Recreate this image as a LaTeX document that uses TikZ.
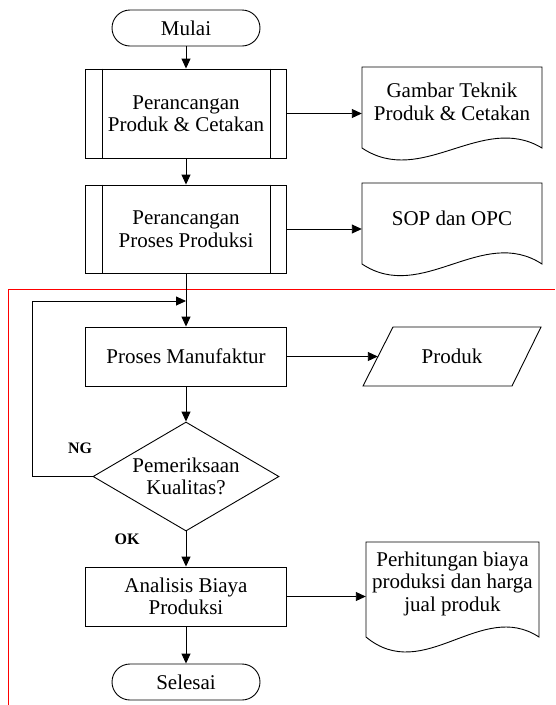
\documentclass[tikz,border=0pt]{standalone}
\usepackage{fontspec}
\setmainfont{Liberation Serif}
\usetikzlibrary{arrows.meta,shapes.geometric}
\begin{document}
\begin{tikzpicture}[x=1pt,y=-1pt,
  lw/.style={line width=0.9pt},
  arr/.style={lw,-{Triangle[length=10pt,width=9pt]}},
  txt/.style={font=\fontsize{21}{22.5}\selectfont, align=center, inner sep=0pt},
  term/.style={txt,draw,lw,rounded corners=18pt,minimum width=148pt,minimum height=36pt},
  proc/.style={txt,draw,lw,minimum width=201pt},
  lbl/.style={font=\fontsize{16}{18}\selectfont\bfseries, inner sep=0pt},
  frame/.style={draw=red, line width=0.9pt}]
\useasboundingbox (0,0) rectangle (555,705);

% main column
\node[term] (mulai) at (186,28) {Mulai};
\node[proc, minimum height=89pt] (b1) at (186,113.5) {Perancangan\\Produk \& Cetakan};
\node[proc, minimum height=88pt] (b2) at (186,229) {Perancangan\\Proses Produksi};
\node[proc, minimum height=59pt] (pm) at (186,356.5) {Proses Manufaktur};
\node[txt, draw, lw, diamond, shape aspect=1.706, minimum width=186pt, minimum height=109pt] (dia) at (186,476.5) {Pemeriksaan\\Kualitas?};
\node[proc, minimum height=59pt] (ana) at (186,596.5) {Analisis Biaya\\Produksi};
\node[term] (sel) at (186,682) {Selesai};

% predefined process side bars
\draw[lw] ([xshift=17pt]b1.north west) -- ([xshift=17pt]b1.south west);
\draw[lw] ([xshift=-17pt]b1.north east) -- ([xshift=-17pt]b1.south east);
\draw[lw] ([xshift=17pt]b2.north west) -- ([xshift=17pt]b2.south west);
\draw[lw] ([xshift=-17pt]b2.north east) -- ([xshift=-17pt]b2.south east);

% documents
\node[txt, minimum width=180pt] (gt) at (452,102) {Gambar Teknik\\Produk \& Cetakan};
\draw[lw] (362,67) -- (542,67) -- (542,148) .. controls (482,112) and (422,188) .. (362,148) -- cycle;

\node[txt, minimum width=180pt] (sop) at (452,218) {SOP dan OPC};
\draw[lw] (362,183) -- (542,183) -- (542,264) .. controls (482,225) and (422,304) .. (362,264) -- cycle;

\node[txt, minimum width=173pt] (per) at (452.5,583.5) {Perhitungan biaya\\produksi dan harga\\jual produk};
\draw[lw] (366,542) -- (539,542) -- (539,637) .. controls (481,599) and (424,685) .. (366,637) -- cycle;

% data (parallelogram)
\node[txt, minimum width=148pt, minimum height=59pt] (prod) at (452,356.5) {Produk};
\draw[lw] (363,386) -- (393,327) -- (541,327) -- (512,386) -- cycle;

% red frame
\draw[frame] (8,705) -- (8,289) -- (555,289);

% connectors
\coordinate (loopx) at (32,301);
\coordinate (join) at (186,301);
\draw[arr] (mulai) -- (b1);
\draw[arr] (b1.east) -- (b1.east -| gt.west);
\draw[arr] (b1) -- (b2);
\draw[arr] (b2.east) -- (b2.east -| sop.west);
\draw[arr] (b2) -- (pm);
\draw[arr] (pm.east) -- (pm.east -| prod.west);
\draw[arr] (pm) -- (dia);
\draw[arr] (dia.west) -| (loopx) -- (join);
\draw[arr] (dia) -- (ana);
\draw[arr] (ana.east) -- (ana.east -| per.west);
\draw[arr] (ana) -- (sel);

% labels
\node[lbl] (ng) at (80,448) {NG};
\node[lbl] (ok) at (127,539) {OK};
\end{tikzpicture}
\end{document}
